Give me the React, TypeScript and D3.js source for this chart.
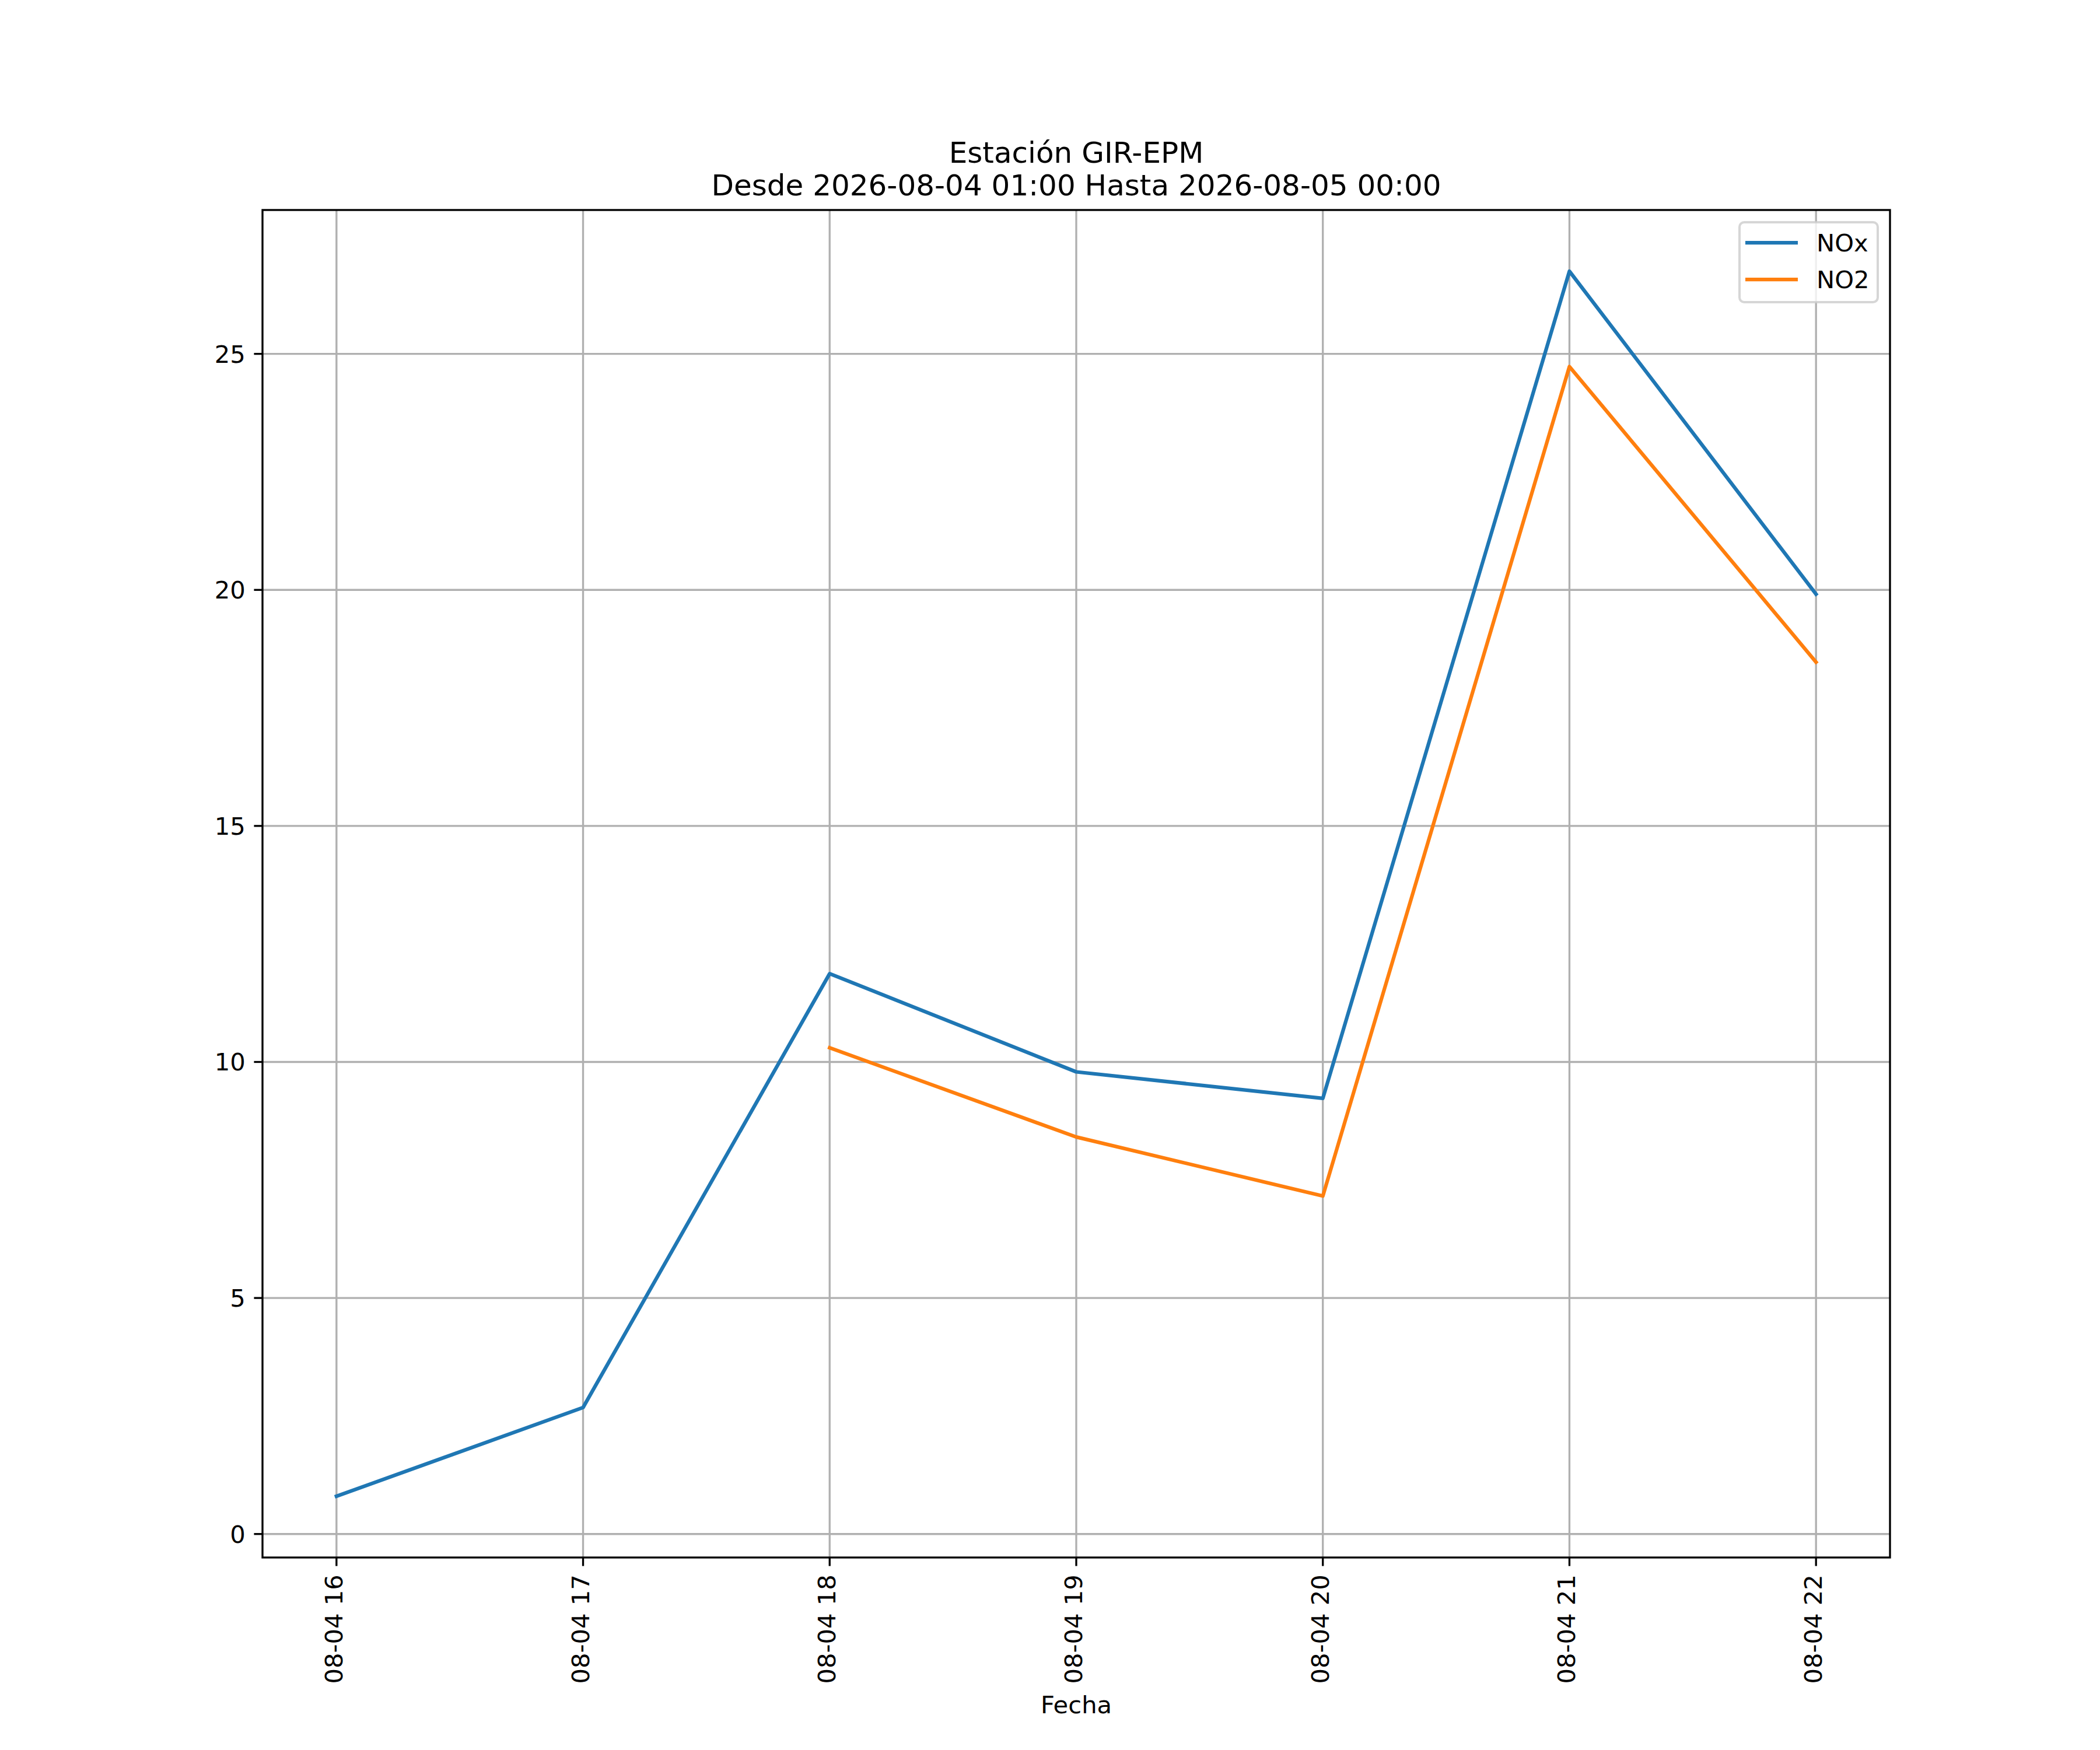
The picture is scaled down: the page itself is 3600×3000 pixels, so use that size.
import React, { useEffect, useRef } from 'react';
import * as d3 from 'd3';

// hourly samples for 2026-08-04
const hours = [16, 17, 18, 19, 20, 21, 22];
const tickLabels = ['08-04 16', '08-04 17', '08-04 18', '08-04 19', '08-04 20', '08-04 21', '08-04 22'];
const noxValues = [0.8, 2.68, 11.87, 9.79, 9.23, 26.75, 19.91];
const no2Values: (number | null)[] = [null, null, 10.3, 8.41, 7.16, 24.73, 18.47];
const yTicks = [0, 5, 10, 15, 20, 25];

const seriesNames = ['NOx', 'NO2'];
const seriesColors = ['#1f77b4', '#ff7f0e'];

const titleLines = ['Estación GIR-EPM', 'Desde 2026-08-04 01:00 Hasta 2026-08-05 00:00'];
const xAxisLabel = 'Fecha';

const App: React.FC = () => {
  const svgRef = useRef<SVGSVGElement>(null);
  const width = 3600;
  const height = 3000;

  useEffect(() => {
    const svg = d3.select(svgRef.current);
    svg.selectAll('*').remove();

    const pt = 300 / 72; // px per point
    const margin = { top: 360, right: 360, bottom: 330, left: 450 };
    const chartWidth = width - margin.left - margin.right;
    const chartHeight = height - margin.top - margin.bottom;
    const font = 'DejaVu Sans, sans-serif';
    const fs = 10 * pt;
    const tickLen = 3.5 * pt;
    const tickPad = 3.5 * pt;

    svg.append('rect').attr('width', width).attr('height', height).attr('fill', '#fff');

    const g = svg.append('g').attr('transform', `translate(${margin.left}, ${margin.top})`);

    // matplotlib-like 5% margins
    const xMin = d3.min(hours) as number;
    const xMax = d3.max(hours) as number;
    const xPad = (xMax - xMin) * 0.05;
    const xScale = d3.scaleLinear().domain([xMin - xPad, xMax + xPad]).range([0, chartWidth]);

    const allVals = [...noxValues, ...(no2Values.filter(v => v !== null) as number[])];
    const yMin = d3.min(allVals) as number;
    const yMax = d3.max(allVals) as number;
    const yPad = (yMax - yMin) * 0.05;
    const yScale = d3.scaleLinear().domain([yMin - yPad, yMax + yPad]).range([chartHeight, 0]);

    // grid
    g.selectAll('.vgrid')
      .data(hours)
      .enter()
      .append('line')
      .attr('x1', d => xScale(d))
      .attr('x2', d => xScale(d))
      .attr('y1', 0)
      .attr('y2', chartHeight)
      .attr('stroke', '#b0b0b0')
      .attr('stroke-width', 0.8 * pt);

    g.selectAll('.hgrid')
      .data(yTicks)
      .enter()
      .append('line')
      .attr('x1', 0)
      .attr('x2', chartWidth)
      .attr('y1', d => yScale(d))
      .attr('y2', d => yScale(d))
      .attr('stroke', '#b0b0b0')
      .attr('stroke-width', 0.8 * pt);

    // lines
    const line = d3.line<number | null>()
      .defined(d => d !== null)
      .x((_, i) => xScale(hours[i]))
      .y(d => yScale(d as number));

    [noxValues, no2Values].forEach((vals, i) => {
      g.append('path')
        .datum(vals as (number | null)[])
        .attr('d', line)
        .attr('fill', 'none')
        .attr('stroke', seriesColors[i])
        .attr('stroke-width', 1.5 * pt)
        .attr('stroke-linejoin', 'round')
        .attr('stroke-linecap', 'square');
    });

    // frame
    g.append('rect')
      .attr('width', chartWidth)
      .attr('height', chartHeight)
      .attr('fill', 'none')
      .attr('stroke', '#000')
      .attr('stroke-width', 0.8 * pt);

    // x ticks
    const xt = g.selectAll('.xtick').data(hours).enter().append('g')
      .attr('transform', d => `translate(${xScale(d)}, ${chartHeight})`);
    xt.append('line').attr('y1', 0).attr('y2', tickLen).attr('stroke', '#000').attr('stroke-width', 0.8 * pt);
    xt.append('text')
      .attr('transform', `translate(10, ${tickLen + tickPad}) rotate(-90)`)
      .attr('text-anchor', 'end')
      .attr('font-family', font)
      .attr('font-size', fs)
      .attr('fill', '#000')
      .text((_, i) => tickLabels[i]);

    // y ticks
    const yt = g.selectAll('.ytick').data(yTicks).enter().append('g')
      .attr('transform', d => `translate(0, ${yScale(d)})`);
    yt.append('line').attr('x1', 0).attr('x2', -tickLen).attr('stroke', '#000').attr('stroke-width', 0.8 * pt);
    yt.append('text')
      .attr('x', -(tickLen + tickPad))
      .attr('dy', '0.36em')
      .attr('text-anchor', 'end')
      .attr('font-family', font)
      .attr('font-size', fs)
      .attr('fill', '#000')
      .text(d => String(d));

    // x label
    svg.append('text')
      .attr('x', margin.left + chartWidth / 2)
      .attr('y', 2937)
      .attr('text-anchor', 'middle')
      .attr('font-family', font)
      .attr('font-size', fs)
      .attr('fill', '#000')
      .text(xAxisLabel);

    // title
    titleLines.forEach((t, i) => {
      svg.append('text')
        .attr('x', margin.left + chartWidth / 2)
        .attr('y', 279 + i * 56)
        .attr('text-anchor', 'middle')
        .attr('font-family', font)
        .attr('font-size', 12 * pt)
        .attr('fill', '#000')
        .text(t);
    });

    // legend
    const lg = svg.append('g').attr('transform', 'translate(2982, 381)');
    lg.append('rect')
      .attr('width', 237)
      .attr('height', 137)
      .attr('rx', 8)
      .attr('fill', '#fff')
      .attr('fill-opacity', 0.8)
      .attr('stroke', '#cccccc')
      .attr('stroke-opacity', 0.8)
      .attr('stroke-width', 4);
    seriesNames.forEach((name, i) => {
      const cy = 35 + i * 63;
      lg.append('line')
        .attr('x1', 10).attr('x2', 100)
        .attr('y1', cy).attr('y2', cy)
        .attr('stroke', seriesColors[i])
        .attr('stroke-width', 1.5 * pt);
      lg.append('text')
        .attr('x', 132)
        .attr('y', cy + 15)
        .attr('font-family', font)
        .attr('font-size', fs)
        .attr('fill', '#000')
        .text(name);
    });
  }, []);

  return (
    <svg
      ref={svgRef}
      width={width}
      height={height}
      style={{ position: 'absolute', left: 0, top: 0, display: 'block' }}
    />
  );
};

export default App;
